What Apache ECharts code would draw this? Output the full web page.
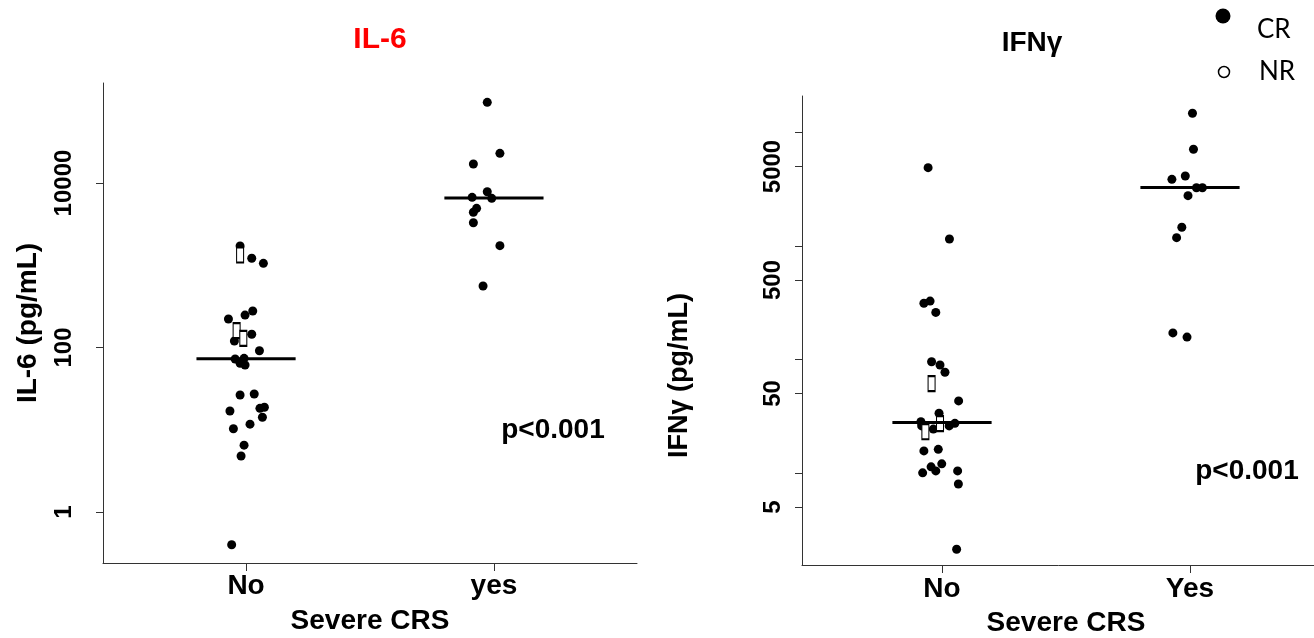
<!DOCTYPE html>
<html>
<head>
<meta charset="utf-8">
<script src="https://cdn.jsdelivr.net/npm/echarts@6.0.0/dist/echarts.min.js"></script>
<style>
html, body { margin: 0; padding: 0; background: #fff; }
#main { width: 1314px; height: 638px; }
</style>
</head>
<body>
<div id="main"></div>
<script>
// categories
var il6Groups = ['No', 'yes'];
var ifnGroups = ['No', 'Yes'];

// IL-6 (pg/mL); jitter = horizontal offset from the group centre
var il6NoCR = [1714, 1215, 1056, 222, 248, 278, 120, 145, 91.4, 72.5, 73.9, 64.3, 61.3,
               26.5, 27.2, 16.9, 18.2, 18.8, 14.2, 11.7, 10.3, 6.5, 4.8, 0.40];
var il6NoCRJit = [-0.024, 0.023, 0.070, -0.071, -0.004, 0.027, -0.047, 0.023, 0.054, -0.044, -0.008, -0.024, -0.004,
                  -0.024, 0.033, -0.065, 0.056, 0.074, 0.066, 0.016, -0.051, -0.008, -0.020, -0.058];
var il6NoNR = [1333, 160, 129];
var il6NoNRJit = [-0.024, -0.038, -0.011];
var il6YesCR = [95700, 22960, 17020, 7840, 6700, 6517, 4924, 4404, 3290, 1730, 560];
var il6YesCRJit = [-0.027, 0.024, -0.083, -0.027, -0.088, -0.009, -0.070, -0.083, -0.083, 0.024, -0.044];
var il6Medians = [73.1, 6570];

// IFN-gamma (pg/mL)
var ifnNoCR = [4880, 1149, 312, 326, 259, 95.3, 89.1, 76.9, 43.0, 33.5, 28.2, 25.9, 24.3, 25.9, 27.3,
               15.6, 16.1, 11.3, 10.4, 12.0, 10.0, 10.4, 7.97, 2.12];
var ifnNoCRJit = [-0.056, 0.030, -0.073, -0.048, -0.025, -0.042, -0.008, 0.012, 0.067, -0.012, -0.085, -0.082, -0.035, 0.029, 0.052,
                  -0.073, -0.015, -0.044, -0.025, -0.001, -0.078, 0.063, 0.066, 0.059];
var ifnNoNR = [61.0, 23.0, 27.1];
var ifnNoNRJit = [-0.042, -0.067, -0.008];
var ifnYesCR = [14720, 7090, 3855, 4124, 3252, 3252, 2766, 1456, 1180, 171, 157];
var ifnYesCRJit = [0.010, 0.014, -0.073, -0.019, 0.026, 0.050, -0.008, -0.033, -0.054, -0.069, -0.012];
var ifnMedians = [27.7, 3266];

// tick labels
var il6Ticks = [1, 100, 10000];
var ifnTicks = [5, 10, 50, 100, 500, 1000, 5000, 10000];
var ifnLabels = [5, 50, 500, 5000];

var FONT = 'Liberation Sans';

function pts(vals, jit, centre) {
    return vals.map(function (v, i) { return [centre + jit[i], Math.log10(v)]; });
}
function medLine(m, centre) {
    return [[centre - 0.2, Math.log10(m)], [centre + 0.2, Math.log10(m)]];
}
function lg(arr) { return arr.map(function (v) { return Math.log10(v); }); }
function powLabel(v) { return String(Math.round(Math.pow(10, v))); }

var axisLineStyle = { color: '#333', width: 1 };
var boldText = { color: '#000', fontFamily: FONT, fontWeight: 'bold' };

function xAxisFor(idx, min, max, names, labelMargin) {
    return {
        gridIndex: idx, type: 'value', min: min, max: max,
        splitLine: { show: false },
        axisLine: { show: true, onZero: false, lineStyle: axisLineStyle },
        axisTick: { show: true, customValues: [1, 2], length: 8, lineStyle: axisLineStyle },
        axisLabel: Object.assign({ customValues: [1, 2], margin: labelMargin, fontSize: 28,
            formatter: function (v) { return names[Math.round(v) - 1]; } }, boldText),
        name: 'Severe CRS', nameLocation: 'middle', nameGap: 44,
        nameTextStyle: Object.assign({ fontSize: 28 }, boldText)
    };
}

function crSeries(name, x, y, data) {
    return { name: name, type: 'scatter', xAxisIndex: x, yAxisIndex: y, data: data,
        symbol: 'circle', symbolSize: 9, itemStyle: { color: '#000', opacity: 1 }, z: 3, silent: true };
}
function nrSeries(name, x, y, data) {
    return { name: name, type: 'scatter', xAxisIndex: x, yAxisIndex: y, data: data,
        symbol: 'rect', symbolSize: [7, 15],
        itemStyle: { color: '#fff', borderColor: '#000', borderWidth: 1.5, opacity: 1 }, z: 4, silent: true };
}
function medSeries(x, y, data) {
    return { type: 'line', xAxisIndex: x, yAxisIndex: y, data: data, symbol: 'none',
        lineStyle: { color: '#000', width: 3 }, z: 5, silent: true };
}

var chart = echarts.init(document.getElementById('main'));
var option = {
    animation: false,
    backgroundColor: '#fff',
    grid: [
        { left: 103, top: 83, width: 534, height: 480, outerBoundsMode: 'none' },
        { left: 802, top: 96, width: 528, height: 469, outerBoundsMode: 'none' }
    ],
    xAxis: [
        xAxisFor(0, 0.423, 2.577, il6Groups, 9),
        xAxisFor(1, 0.4355, 2.5645, ifnGroups, 10)
    ],
    yAxis: [
        {
            gridIndex: 0, type: 'value', min: -0.62, max: 5.216,
            splitLine: { show: false },
            axisLine: { show: true, onZero: false, lineStyle: axisLineStyle },
            axisTick: { show: true, customValues: lg(il6Ticks), length: 7, lineStyle: axisLineStyle },
            axisLabel: Object.assign({ customValues: lg(il6Ticks), rotate: 90, margin: 27, fontSize: 24,
                formatter: powLabel }, boldText),
            name: 'IL-6 (pg/mL)', nameLocation: 'middle', nameGap: 61,
            nameTextStyle: Object.assign({ fontSize: 28 }, boldText)
        },
        {
            gridIndex: 1, type: 'value', min: 0.188, max: 4.32,
            splitLine: { show: false },
            axisLine: { show: true, onZero: false, lineStyle: axisLineStyle },
            axisTick: { show: true, customValues: lg(ifnTicks), length: 7, lineStyle: axisLineStyle },
            axisLabel: Object.assign({ customValues: lg(ifnLabels), rotate: 90, margin: 17, fontSize: 24,
                formatter: powLabel }, boldText),
            name: 'IFNγ (pg/mL)', nameLocation: 'middle', nameGap: 109,
            nameTextStyle: Object.assign({ fontSize: 27, padding: [0, 90, 0, 0] }, boldText)
        }
    ],
    series: [
        crSeries('CR', 0, 0, pts(il6NoCR, il6NoCRJit, 1)),
        crSeries('CR', 0, 0, pts(il6YesCR, il6YesCRJit, 2)),
        nrSeries('NR', 0, 0, pts(il6NoNR, il6NoNRJit, 1)),
        medSeries(0, 0, medLine(il6Medians[0], 1)),
        medSeries(0, 0, medLine(il6Medians[1], 2)),
        crSeries('CR', 1, 1, pts(ifnNoCR, ifnNoCRJit, 1)),
        crSeries('CR', 1, 1, pts(ifnYesCR, ifnYesCRJit, 2)),
        nrSeries('NR', 1, 1, pts(ifnNoNR, ifnNoNRJit, 1)),
        medSeries(1, 1, medLine(ifnMedians[0], 1)),
        medSeries(1, 1, medLine(ifnMedians[1], 2))
    ],
    graphic: [
        { type: 'text', x: 380, y: 40, style: { text: 'IL-6', fill: '#ff0000', fontFamily: FONT, fontWeight: 'bold', fontSize: 30, align: 'center', verticalAlign: 'middle' } },
        { type: 'text', x: 1032, y: 43, style: { text: 'IFNγ', fill: '#000', fontFamily: FONT, fontWeight: 'bold', fontSize: 28, align: 'center', verticalAlign: 'middle' } },
        { type: 'text', x: 553, y: 430, style: { text: 'p<0.001', fill: '#000', fontFamily: FONT, fontWeight: 'bold', fontSize: 28, align: 'center', verticalAlign: 'middle' } },
        { type: 'text', x: 1247, y: 471, style: { text: 'p<0.001', fill: '#000', fontFamily: FONT, fontWeight: 'bold', fontSize: 28, align: 'center', verticalAlign: 'middle' } },
        // legend
        { type: 'circle', shape: { cx: 1223, cy: 16, r: 7.5 }, style: { fill: '#000' } },
        { type: 'text', x: 1257, y: 30, style: { text: 'CR', fill: '#000', fontFamily: 'Lato', fontSize: 26, align: 'left', verticalAlign: 'middle' } },
        { type: 'circle', shape: { cx: 1224, cy: 72, r: 5.5 }, style: { fill: '#fff', stroke: '#000', lineWidth: 1.5 } },
        { type: 'text', x: 1259, y: 72, style: { text: 'NR', fill: '#000', fontFamily: 'Lato', fontSize: 26, align: 'left', verticalAlign: 'middle' } }
    ]
};
chart.setOption(option);
</script>
</body>
</html>
